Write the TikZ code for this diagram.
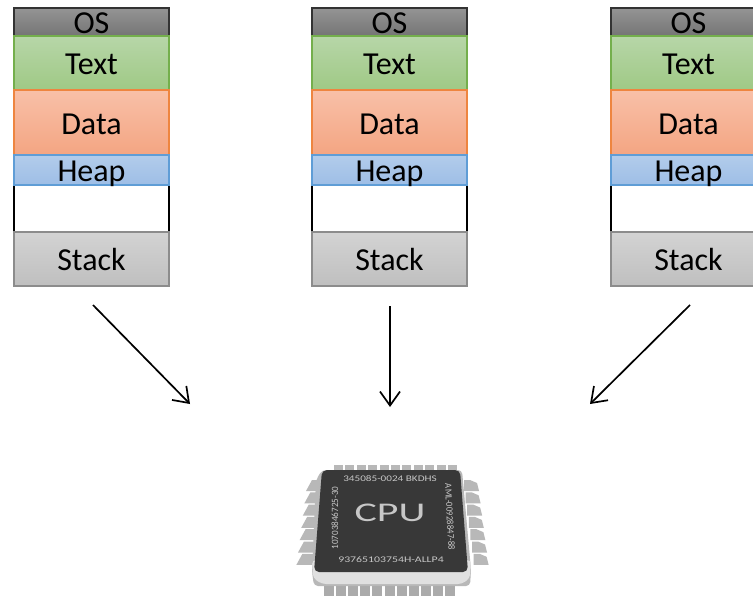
\documentclass[tikz,border=0pt]{standalone}
\usepackage{fontspec}
\setmainfont{Carlito}
\usetikzlibrary{arrows.meta}
\definecolor{osT}{HTML}{949494}\definecolor{osB}{HTML}{757575}
\definecolor{txT}{HTML}{B7D6A8}\definecolor{txB}{HTML}{9FC985}
\definecolor{daT}{HTML}{F8C0A8}\definecolor{daB}{HTML}{F4A582}
\definecolor{heT}{HTML}{B2CCEB}\definecolor{heB}{HTML}{9EBEE6}
\definecolor{stT}{HTML}{D3D3D3}\definecolor{stB}{HTML}{BFBFBF}
\definecolor{txL}{HTML}{74AF4C}\definecolor{daL}{HTML}{EE8540}\definecolor{heL}{HTML}{5F9DD6}
\tikzset{
  seg/.style={draw,line width=1.4pt,minimum width=155pt,inner sep=0pt,outer sep=0pt,anchor=north west,text=black,text height=23.5pt,text depth=0pt,font=\fontsize{32}{32}\selectfont},
  osseg/.style={seg,draw=black!80,top color=osT,bottom color=osB,minimum height=28pt},
  txseg/.style={seg,draw=txL,top color=txT,bottom color=txB,minimum height=54pt},
  daseg/.style={seg,draw=daL,top color=daT,bottom color=daB,minimum height=65pt},
  heseg/.style={seg,draw=heL,top color=heT,bottom color=heB,minimum height=30pt},
  stseg/.style={seg,draw=black!45,top color=stT,bottom color=stB,minimum height=54pt},
  sideline/.style={draw=black,line width=1.6pt},
  flow/.style={draw=black,line width=1.7pt,-{Straight Barb[length=14pt,width=20pt,line width=1.7pt]}},
  pin/.style={fill=black!28},
  pinb/.style={fill=black!33},
  chiptext/.style={text=black!22,font=\fontsize{8.6}{8.6}\selectfont,inner sep=0pt}
}
\newcommand{\memcol}[2]{%
  \draw[sideline] (#2,185) -- (#2,232);
  \draw[sideline] (#2+155,185) -- (#2+155,232);
  \node[osseg] (#1os) at (#2,8) {OS};
  \node[txseg] (#1tx) at (#2,36) {Text};
  \node[daseg] (#1da) at (#2,90) {Data};
  \node[heseg] (#1he) at (#2,155) {Heap};
  \node[stseg] (#1st) at (#2,232) {Stack};
}
\begin{document}
\begin{tikzpicture}[x=1pt,y=-1pt]
\useasboundingbox (0,0) rectangle (753,597);
\fill[white] (0,0) rectangle (753,597);
\memcol{a}{14}
\memcol{b}{312}
\memcol{c}{611}
% arrows
\coordinate (a1) at (93,305); \coordinate (a2) at (190,404);
\coordinate (b1) at (390,306); \coordinate (b2) at (390,407);
\coordinate (c1) at (690,305); \coordinate (c2) at (590,404);
\draw[flow] (a1) -- (a2);
\draw[flow] (b1) -- (b2);
\draw[flow] (c1) -- (c2);
% CPU pins: top
\foreach \i in {0,...,10} {
  \fill[pin] ({334+11.4*\i},464.5) rectangle ({343+11.4*\i},472);
}
% left and right pins
\foreach \i in {0,...,6} {
  \pgfmathsetmacro{\yy}{481+12.3*\i}
  \pgfmathsetmacro{\xl}{308-1.6*\i}
  \pgfmathsetmacro{\xr}{464+1.6*\i}
  \fill[pin] (\xl-2,\yy+10) -- (\xl+4,\yy-1) -- (\xl+16,\yy-1) -- (\xl+16,\yy+10) -- cycle;
  \fill[pin] (\xr,\yy-1) -- (\xr+6,\yy-1) -- (\xr+13,\yy+2) -- (\xr+15,\yy+10) -- (\xr,\yy+10) -- cycle;
}
% bottom pins
\foreach \i in {0,...,10} {
  \fill[pinb] ({324+12.1*\i},582) rectangle ({334+12.1*\i},595.5);
}
% base
\fill[black!28,rounded corners=4pt] (316,480) -- (322,470) -- (462,470) -- (471,570) -- (470,586) -- (314,586) -- (312,572) -- cycle;
\fill[black!12,rounded corners=4pt] (312,560) -- (471,560) -- (470,578) -- (462,584) -- (322,584) -- (313,578) -- cycle;
% top plate
\fill[black!78,rounded corners=5pt] (322,470) -- (460,470) -- (468,572) -- (314,572) -- cycle;
\node[chiptext] (t1) at (390,479) {\scalebox{1.3}[1]{345085-0024 BKDHS}};
\node[chiptext] (t2) at (391,560) {\scalebox{1.37}[1]{93765103754H-ALLP4}};
\node[chiptext,rotate=90,font=\fontsize{9.6}{9.6}\selectfont] (t3) at (335,518) {\scalebox{.95}[1]{10703846725-30}};
\node[chiptext,rotate=-87,font=\fontsize{9.6}{9.6}\selectfont] (t4) at (450,517) {\scalebox{.92}[1]{AML-00928847-88}};
\node[text=black!22,font=\fontsize{27}{27}\selectfont,inner sep=0pt] (cpu) at (390,513) {\scalebox{1.55}[1]{CPU}};
\end{tikzpicture}
\end{document}
